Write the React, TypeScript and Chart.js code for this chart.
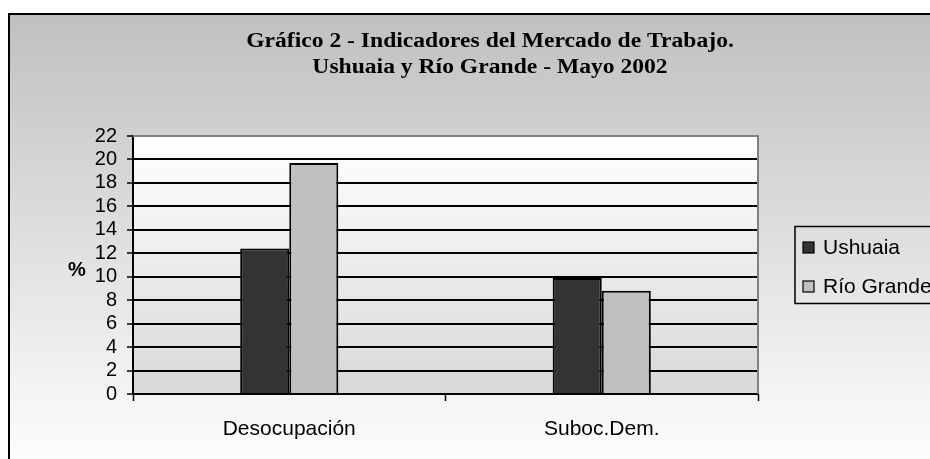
import React, { useEffect, useRef } from "react";
import { Chart, registerables } from "chart.js";

Chart.register(...registerables);

const categories = ["Desocupación", "Suboc.Dem."];
const seriesNames = ["Ushuaia", "Río Grande"];
const ushuaiaValues = [12.4, 9.9];
const rioGrandeValues = [19.7, 8.8];
const titleLines = [
  "Gráfico 2 - Indicadores del Mercado de Trabajo.",
  "Ushuaia y Río Grande - Mayo 2002",
];
const yAxisLabel = "%";
const yMin = 0;
const yMax = 22;
const yStep = 2;

const seriesColors = ["#333333", "#c0c0c0"];
const SANS = "'Liberation Sans', Arial, sans-serif";
const SERIF = "'Liberation Serif', 'Times New Roman', serif";

const W = 930;
const H = 459;

const decorPlugin = {
  id: "decor",
  beforeDraw(chart: any) {
    const { ctx, chartArea } = chart;
    ctx.save();
    ctx.fillStyle = "#ffffff";
    ctx.fillRect(0, 0, W, H);
    const g = ctx.createLinearGradient(0, 15, 0, H);
    g.addColorStop(0, "#c0c0c0");
    g.addColorStop(1, "#fdfdfd");
    ctx.fillStyle = g;
    ctx.fillRect(9, 14, W, H);
    ctx.fillStyle = "#000000";
    ctx.fillRect(8, 13, 2, H);
    ctx.fillRect(8, 13, W, 2);
    const pg = ctx.createLinearGradient(0, chartArea.top, 0, chartArea.bottom);
    pg.addColorStop(0, "#ffffff");
    pg.addColorStop(1, "#d8d8d8");
    ctx.fillStyle = pg;
    ctx.fillRect(
      chartArea.left,
      chartArea.top,
      chartArea.right - chartArea.left,
      chartArea.bottom - chartArea.top
    );
    ctx.restore();
  },
  afterDraw(chart: any) {
    const { ctx, chartArea } = chart;
    ctx.save();
    ctx.strokeStyle = "#808080";
    ctx.lineWidth = 2;
    ctx.beginPath();
    ctx.moveTo(chartArea.left, chartArea.top);
    ctx.lineTo(chartArea.right, chartArea.top);
    ctx.lineTo(chartArea.right, chartArea.bottom);
    ctx.stroke();

    ctx.fillStyle = "#000000";
    ctx.font = `bold 20px ${SERIF}`;
    ctx.textAlign = "center";
    ctx.textBaseline = "alphabetic";
    const cx = 490;
    const baselines = [47, 73];
    titleLines.forEach((line, i) => {
      ctx.save();
      ctx.translate(cx, baselines[i]);
      ctx.scale(1.18, 1);
      ctx.fillText(line, 0, 0);
      ctx.restore();
    });

    ctx.font = `bold 20px ${SANS}`;
    ctx.textAlign = "center";
    ctx.textBaseline = "middle";
    ctx.fillText(yAxisLabel, chartArea.left - 56, (chartArea.top + chartArea.bottom) / 2 + 5);

    const lx = chartArea.right + 37;
    const lh = 77;
    const ly = (chartArea.top + chartArea.bottom) / 2 - lh / 2;
    ctx.strokeStyle = "#000000";
    ctx.lineWidth = 1.5;
    ctx.strokeRect(lx, ly, 300, lh);
    const rowY = [ly + 21, ly + 60];
    ctx.font = `21px ${SANS}`;
    ctx.textAlign = "left";
    ctx.textBaseline = "middle";
    chart.data.datasets.forEach((ds: any, i: number) => {
      const y = rowY[i];
      ctx.fillStyle = ds.backgroundColor;
      ctx.fillRect(lx + 8, y - 5.5, 11, 11);
      ctx.strokeStyle = "#000000";
      ctx.lineWidth = 1.2;
      ctx.strokeRect(lx + 8, y - 5.5, 11, 11);
      ctx.fillStyle = "#000000";
      ctx.fillText(ds.label, lx + 28, y + 1);
    });
    ctx.restore();
  },
};

export default function App() {
  const ref = useRef<HTMLCanvasElement | null>(null);

  useEffect(() => {
    const canvas = ref.current;
    if (!canvas) return;
    const chart = new Chart(canvas, {
      type: "bar",
      data: {
        labels: categories,
        datasets: [
          {
            label: seriesNames[0],
            data: ushuaiaValues,
            backgroundColor: seriesColors[0],
            borderColor: "#000000",
            borderWidth: 2,
            categoryPercentage: 0.314,
            barPercentage: 1,
          },
          {
            label: seriesNames[1],
            data: rioGrandeValues,
            backgroundColor: seriesColors[1],
            borderColor: "#000000",
            borderWidth: 2,
            categoryPercentage: 0.314,
            barPercentage: 1,
          },
        ],
      },
      options: {
        animation: false,
        responsive: false,
        devicePixelRatio: 1,
        layout: { padding: { left: 9, top: 136, right: 172, bottom: 0 } },
        plugins: {
          legend: { display: false },
          title: { display: false },
          tooltip: { enabled: false },
        },
        scales: {
          x: {
            offset: true,
            grid: {
              offset: true,
              drawOnChartArea: false,
              drawTicks: true,
              tickLength: 7,
              tickColor: "#000000",
              tickWidth: 1.5,
              color: "#000000",
            },
            border: { display: true, color: "#000000", width: 2 },
            ticks: {
              color: "#000000",
              font: { family: SANS, size: 21 },
              padding: 16,
              maxRotation: 0,
            },
            afterFit: (scale: any) => {
              scale.height = 65;
            },
          },
          y: {
            min: yMin,
            max: yMax,
            ticks: {
              stepSize: yStep,
              autoSkip: false,
              color: "#000000",
              font: { family: SANS, size: 20 },
              padding: 10,
            },
            grid: {
              color: (c: any) => (c.tick && c.tick.value === yMax ? "rgba(0,0,0,0)" : "#000000"),
              lineWidth: 2,
              tickLength: 6,
              tickColor: "#000000",
              tickWidth: 1.5,
            },
            border: { display: true, color: "#000000", width: 2 },
            afterFit: (scale: any) => {
              scale.width = 124;
            },
          },
        },
      },
      plugins: [decorPlugin],
    });
    return () => chart.destroy();
  }, []);

  return (
    <div style={{ position: "fixed", left: 0, top: 0, width: W, height: H, overflow: "hidden" }}>
      <canvas ref={ref} width={W} height={H} style={{ display: "block", width: W, height: H }} />
    </div>
  );
}
